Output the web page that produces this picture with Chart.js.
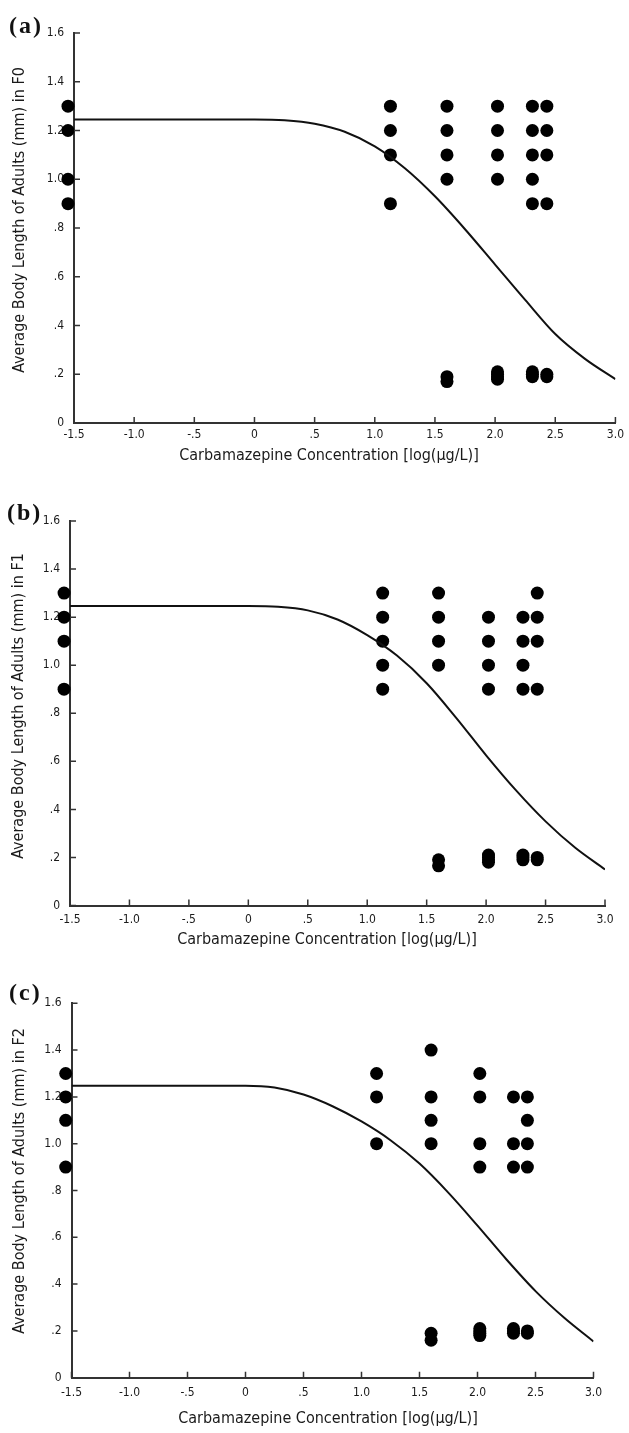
<!DOCTYPE html>
<html><head><meta charset="utf-8">
<script src="https://cdn.jsdelivr.net/npm/chart.js@4.4.1/dist/chart.umd.min.js"></script>
<style>
html,body{margin:0;padding:0;background:#fff;}
body{width:629px;height:1433px;position:relative;overflow:hidden;}
.panel{position:absolute;left:0;width:629px;}
.panel canvas{display:block;}
.lbl{position:absolute;font-family:'Liberation Serif','Times New Roman',serif;font-weight:bold;font-size:24px;line-height:24px;color:#111;letter-spacing:2px;}
</style></head><body>
<div class="panel" style="top:0;height:470px"><canvas id="ca" width="629" height="470"></canvas></div>
<div class="panel" style="top:470px;height:480px"><canvas id="cb" width="629" height="480"></canvas></div>
<div class="panel" style="top:950px;height:483px"><canvas id="cc" width="629" height="483"></canvas></div>
<div class="lbl" style="left:9px;top:13px">(a)</div>
<div class="lbl" style="left:7px;top:500px">(b)</div>
<div class="lbl" style="left:9px;top:980px">(c)</div>
<script>
// ---------- data ----------
const xTickValues = [-1.5, -1.0, -0.5, 0, 0.5, 1.0, 1.5, 2.0, 2.5, 3.0];
const xTickLabels = ['-1.5', '-1.0', '-.5', '0', '.5', '1.0', '1.5', '2.0', '2.5', '3.0'];
const yTickValues = [0, 0.2, 0.4, 0.6, 0.8, 1.0, 1.2, 1.4, 1.6];
const yTickLabels = ['0', '.2', '.4', '.6', '.8', '1.0', '1.2', '1.4', '1.6'];
const xTitle = 'Carbamazepine Concentration [log(\u00b5g/L)]';
const yTitles = ['Average Body Length of Adults (mm) in F0',
                 'Average Body Length of Adults (mm) in F1',
                 'Average Body Length of Adults (mm) in F2'];

// log concentration of each treatment (control drawn at the left edge)
const doseX = [-1.55, 1.13, 1.6, 2.02, 2.31, 2.43];

// observed body lengths (mm) per treatment
const lengthsF0 = [
  [1.3, 1.2, 1.0, 0.9],
  [1.3, 1.2, 1.1, 0.9],
  [1.3, 1.2, 1.1, 1.0, 0.19, 0.17],
  [1.3, 1.2, 1.1, 1.0, 0.21, 0.2, 0.19, 0.18],
  [1.3, 1.2, 1.1, 1.0, 0.9, 0.21, 0.2, 0.19],
  [1.3, 1.2, 1.1, 0.9, 0.2, 0.19]
];
const lengthsF1 = [
  [1.3, 1.2, 1.1, 0.9],
  [1.3, 1.2, 1.1, 1.0, 0.9],
  [1.3, 1.2, 1.1, 1.0, 0.19, 0.165],
  [1.2, 1.1, 1.0, 0.9, 0.21, 0.2, 0.19, 0.18],
  [1.2, 1.1, 1.0, 0.9, 0.21, 0.2, 0.19],
  [1.3, 1.2, 1.1, 0.9, 0.2, 0.19]
];
const lengthsF2 = [
  [1.3, 1.2, 1.1, 0.9],
  [1.3, 1.2, 1.0],
  [1.4, 1.2, 1.1, 1.0, 0.19, 0.16],
  [1.3, 1.2, 1.0, 0.9, 0.21, 0.2, 0.19, 0.18],
  [1.2, 1.0, 0.9, 0.21, 0.2, 0.19],
  [1.2, 1.1, 1.0, 0.9, 0.2, 0.19]
];

// fitted curves
const curveX  = [-1.5, 0.0, 0.25, 0.5, 0.75, 1.0, 1.25, 1.5, 1.75, 2.0, 2.25, 2.5, 2.75, 3.0];
const curveF0 = [1.245, 1.245, 1.242, 1.228, 1.195, 1.135, 1.045, 0.93, 0.795, 0.65, 0.505, 0.365, 0.262, 0.18];
const curveF1 = [1.246, 1.246, 1.243, 1.228, 1.19, 1.125, 1.04, 0.925, 0.78, 0.625, 0.48, 0.35, 0.24, 0.15];
const curveF2 = [1.248, 1.248, 1.24, 1.21, 1.16, 1.095, 1.015, 0.915, 0.79, 0.65, 0.505, 0.37, 0.255, 0.155];

// ---------- chart building ----------
const FONT = "'Liberation Sans Narrow','Arial Narrow','DejaVu Sans Condensed','Liberation Sans',sans-serif";
const TITLE_SIZE = 16, TICK_SIZE = 12;
const TEXT_COLOR = '#1a1a1a';

function toPoints(xs, ys) { return xs.map((x, i) => ({x: x, y: ys[i]})); }
function obsPoints(lengths) {
  // listed from the highest dose down so the control group (left of the axis) is kept
  const pts = [];
  for (let i = lengths.length - 1; i >= 0; i--) {
    lengths[i].forEach(v => pts.push({x: doseX[i], y: v}));
  }
  return pts;
}

const innerTicks = {
  id: 'innerTicks',
  afterDraw(chart) {
    const ctx = chart.ctx, xs = chart.scales.x, ys = chart.scales.y, a = chart.chartArea;
    ctx.save();
    ctx.strokeStyle = '#333';
    ctx.lineWidth = 1.5;
    ctx.beginPath();
    xTickValues.forEach(v => {
      const px = xs.getPixelForValue(v);
      ctx.moveTo(px, a.bottom); ctx.lineTo(px, a.bottom - 6);
    });
    yTickValues.forEach(v => {
      const py = ys.getPixelForValue(v);
      ctx.moveTo(a.left, py); ctx.lineTo(a.left + 6, py);
    });
    ctx.stroke();
    ctx.restore();
  }
};

// axis titles, placed where the original figure has them
const axisTitles = {
  id: 'axisTitles',
  afterDraw(chart, args, opts) {
    const ctx = chart.ctx;
    ctx.save();
    ctx.fillStyle = TEXT_COLOR;
    ctx.font = TITLE_SIZE + 'px ' + FONT;
    ctx.textAlign = 'center';
    ctx.textBaseline = 'middle';
    ctx.fillText(opts.xText, opts.xCx, opts.xCy);
    ctx.translate(opts.yCx, opts.yCy);
    ctx.rotate(-Math.PI / 2);
    ctx.fillText(opts.yText, 0, 0);
    ctx.restore();
  }
};

function makePanel(id, lengths, curve, yTitle, L) {
  const padLeft = 6;
  const yW = L.left - padLeft;
  const padBottom = 4;
  const xH = L.height - L.bottom - padBottom;
  new Chart(document.getElementById(id), {
    type: 'scatter',
    data: {
      datasets: [
        {
          type: 'line', data: toPoints(curveX, curve),
          borderColor: '#111', borderWidth: 2, pointRadius: 0,
          cubicInterpolationMode: 'monotone', fill: false
        },
        {
          type: 'scatter', data: obsPoints(lengths),
          backgroundColor: '#000', borderWidth: 0, pointRadius: 6.5, clip: false
        }
      ]
    },
    options: {
      responsive: false, animation: false,
      events: [],
      layout: {padding: {left: padLeft, right: 629 - L.right, top: L.top, bottom: padBottom}},
      plugins: {
        legend: {display: false}, tooltip: {enabled: false},
        axisTitles: {xText: xTitle, xCx: L.xTitleCx, xCy: L.xTitleCy,
                     yText: yTitle, yCx: L.yTitleCx, yCy: L.yTitleCy}
      },
      scales: {
        x: {
          type: 'linear', min: -1.5, max: 3.0,
          afterBuildTicks: s => { s.ticks = xTickValues.map(v => ({value: v})); },
          afterFit: s => { s.height = xH; },
          ticks: {
            callback: (v, i) => xTickLabels[i],
            font: {family: FONT, size: TICK_SIZE}, color: TEXT_COLOR,
            padding: L.xPad, maxRotation: 0, autoSkip: false
          },
          grid: {display: false, drawTicks: false},
          border: {display: true, color: '#333', width: 2},
          title: {display: false, text: xTitle}
        },
        y: {
          type: 'linear', min: 0, max: 1.6,
          afterBuildTicks: s => { s.ticks = yTickValues.map(v => ({value: v})); },
          afterFit: s => { s.width = yW; },
          ticks: {
            callback: (v, i) => yTickLabels[i],
            font: {family: FONT, size: TICK_SIZE}, color: TEXT_COLOR, padding: 10
          },
          grid: {display: false, drawTicks: false},
          border: {display: true, color: '#333', width: 2},
          title: {display: false, text: yTitle}
        }
      }
    },
    plugins: [innerTicks, axisTitles]
  });
}

makePanel('ca', lengthsF0, curveF0, yTitles[0],
  {height: 470, left: 74, right: 616.5, top: 33, bottom: 423, xPad: 5,
   xTitleCx: 329, xTitleCy: 456, yTitleCx: 20, yTitleCy: 220});
makePanel('cb', lengthsF1, curveF1, yTitles[1],
  {height: 480, left: 70, right: 605, top: 51, bottom: 435.5, xPad: 7,
   xTitleCx: 327, xTitleCy: 470, yTitleCx: 19, yTitleCy: 236});
makePanel('cc', lengthsF2, curveF2, yTitles[2],
  {height: 483, left: 71.5, right: 593.5, top: 53.3, bottom: 427.7, xPad: 8,
   xTitleCx: 328, xTitleCy: 469, yTitleCx: 20, yTitleCy: 231});
</script>
</body></html>
